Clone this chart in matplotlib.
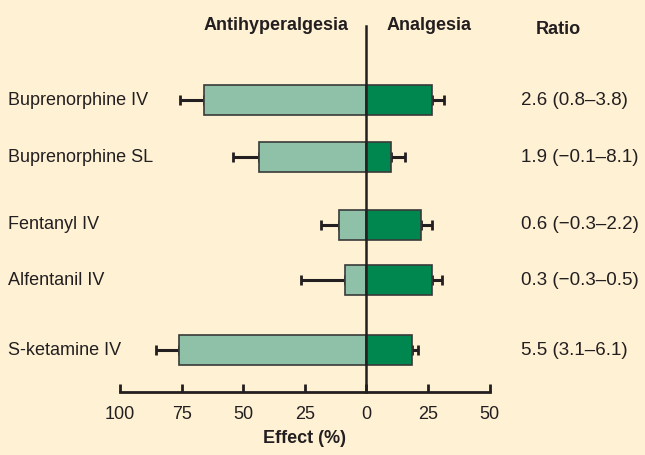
import matplotlib
matplotlib.use('Agg')
import matplotlib.pyplot as plt
import matplotlib.transforms as mtransforms

# Data
drugs = ['Buprenorphine IV', 'Buprenorphine SL', 'Fentanyl IV', 'Alfentanil IV', 'S-ketamine IV']
antihyper = [66, 43.5, 11, 8.5, 76]          # % effect (plotted to the left)
antihyper_err = [9.5, 10.5, 7.5, 18, 9.5]
analgesia = [26.5, 10, 22, 26.5, 18.5]       # % effect (plotted to the right)
analgesia_err = [5, 5.5, 4.5, 4, 2.5]
ratios = ['2.6 (0.8\u20133.8)', '1.9 (\u22120.1\u20138.1)', '0.6 (\u22120.3\u20132.2)',
          '0.3 (\u22120.3\u20130.5)', '5.5 (3.1\u20136.1)']
tick_vals = [-100, -75, -50, -25, 0, 25, 50]
tick_labels = ['100', '75', '50', '25', '0', '25', '50']

# layout: row positions (groups spaced unevenly as in the figure)
rows = [0, 1, 2.19, 3.16, 4.39]

bg = '#fef1d4'
light = '#8fc1a9'
dark = '#00874f'
ink = '#231f20'

plt.rcParams['font.family'] = ['Liberation Sans', 'DejaVu Sans']
fs = 13

fig = plt.figure(figsize=(6.45, 4.55), dpi=100, facecolor=bg)
W, H = 645, 455
x0, x1 = 120, 489.6
y_top, y_axis = 22, 392
ax = fig.add_axes([x0 / W, 1 - y_axis / H, (x1 - x0) / W, (y_axis - y_top) / H])
ax.set_facecolor(bg)
ax.set_xlim(-100, 50)
ax.set_ylim(5.12, -1.37)

bh = 0.53
ax.barh(rows, [-v for v in antihyper], height=bh, color=light, edgecolor='#3a3a3a', lw=1.2, zorder=2)
ax.barh(rows, analgesia, height=bh, color=dark, edgecolor='#3a3a3a', lw=1.2, zorder=2)
ax.errorbar([-v for v in antihyper], rows, xerr=[antihyper_err, [0] * 5], fmt='none',
            ecolor=ink, elinewidth=2.2, capsize=3.5, capthick=2, zorder=1)
ax.errorbar(analgesia, rows, xerr=[[0] * 5, analgesia_err], fmt='none',
            ecolor=ink, elinewidth=2.2, capsize=3.5, capthick=2, zorder=1)

ax.plot([0, 0], [5.12, -1.3], color=ink, lw=1.8, zorder=3, clip_on=False)

for s in ['top', 'right', 'left']:
    ax.spines[s].set_visible(False)
ax.spines['bottom'].set_linewidth(2)
ax.spines['bottom'].set_color(ink)
ax.set_yticks([])
ax.set_xticks(tick_vals)
ax.set_xticklabels(tick_labels, fontsize=fs, color=ink)
ax.tick_params(axis='x', direction='in', length=6, width=2, color=ink, pad=10)
ax.set_xlabel('Effect (%)', fontsize=fs, fontweight='bold', color=ink, labelpad=5)

blend = mtransforms.blended_transform_factory(fig.transFigure, ax.transData)
for y, name, r in zip(rows, drugs, ratios):
    ax.text(8 / W, y, name, fontsize=fs, color=ink, va='center', ha='left', transform=blend)
    ax.text(521 / W, y, r, fontsize=13.5, color=ink, va='center', ha='left', transform=blend)

# headers
hy = 1 - 26 / H
fig.text(349 / W, hy, 'Antihyperalgesia', fontsize=fs, fontweight='bold', color=ink, ha='right', va='center')
fig.text(387 / W, hy, 'Analgesia', fontsize=fs, fontweight='bold', color=ink, ha='left', va='center')
fig.text(536 / W, 1 - 30 / H, 'Ratio', fontsize=fs, fontweight='bold', color=ink, ha='left', va='center')

fig.savefig('out.png', dpi=100, facecolor=bg)
